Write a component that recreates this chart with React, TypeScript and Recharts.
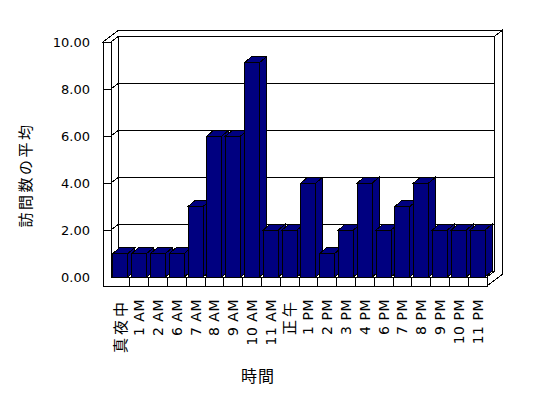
import { BarChart, Bar, XAxis, YAxis, CartesianGrid, usePlotArea } from "recharts";

const hours = ["真夜中", "1 AM", "2 AM", "6 AM", "7 AM", "8 AM", "9 AM", "10 AM", "11 AM", "正午", "1 PM", "2 PM", "3 PM", "4 PM", "6 PM", "7 PM", "8 PM", "9 PM", "10 PM", "11 PM"];
const avgVisits = [1, 1, 1, 1, 3, 6, 6, 9.12, 2, 2, 4, 1, 2, 4, 2, 3, 4, 2, 2, 2];
const yTicks = [0, 2, 4, 6, 8, 10];

const data = hours.map((hour, i) => ({ hour, visits: avgVisits[i] }));

const NAVY = "#000080";
const FONT = "'DejaVu Sans', 'Noto Sans CJK JP', sans-serif";
// depth of the 3D walls and of the bars
const DX = 7.5;
const DY = 5.75;
const BAR_DX = 7;
const BAR_DY = 6;
const WALL = 8; // left wall thickness
const FLOOR = 9; // floor thickness

function Bar3D(props: any) {
  const { x, y, width, height } = props;
  if (!height) return null;
  const r = x + width;
  const b = y + height;
  return (
    <g shapeRendering="crispEdges" stroke="#000" strokeWidth={1} fill={NAVY}>
      <polygon points={`${x},${y} ${x + BAR_DX},${y - BAR_DY} ${r + BAR_DX},${y - BAR_DY} ${r},${y}`} />
      <polygon points={`${r},${y} ${r + BAR_DX},${y - BAR_DY} ${r + BAR_DX},${b - BAR_DY} ${r},${b}`} />
      <rect x={x} y={y} width={width} height={height} />
    </g>
  );
}

// walls and floor of the 3D box, no fill so the grid behind shows
function Frame() {
  const p = usePlotArea();
  if (!p) return null;
  const L = p.x;
  const R = p.x + p.width;
  const T = p.y;
  const B = p.y + p.height;
  const WL = L - WALL;
  const FB = B + FLOOR;
  const step = p.width / hours.length;
  return (
    <g shapeRendering="crispEdges" stroke="#000" strokeWidth={1} fill="none">
      <rect x={L + DX} y={T - DY} width={p.width} height={p.height} />
      <polygon points={`${L},${T} ${L + DX},${T - DY} ${L + DX},${B - DY} ${L},${B}`} />
      <polygon
        points={`${WL},${T} ${WL + 2 * DX},${T - 2 * DY} ${R + 2 * DX},${T - 2 * DY} ${R + DX},${T - DY} ${L + DX},${T - DY} ${L},${T}`}
      />
      <polygon
        points={`${R + DX},${T - DY} ${R + 2 * DX},${T - 2 * DY} ${R + 2 * DX},${FB - 2 * DY} ${R},${FB} ${R},${B} ${R + DX},${B - DY}`}
      />
      <polygon points={`${WL},${T} ${L},${T} ${L},${B} ${R},${B} ${R},${FB} ${WL},${FB}`} />
      {hours.slice(1).map((_, i) => (
        <line key={i} x1={L + (i + 1) * step} x2={L + (i + 1) * step} y1={B} y2={FB} />
      ))}
    </g>
  );
}

function YTick(props: any) {
  const { x, y, payload } = props;
  const left = x + 21;
  return (
    <g>
      {payload.value > 0 && (
        <polyline
          points={`${left - WALL},${y} ${left},${y} ${left + DX},${y - DY}`}
          fill="none"
          stroke="#000"
          shapeRendering="crispEdges"
        />
      )}
      <text x={x} y={y} dy="0.36em" textAnchor="end" fontSize={13} fontFamily={FONT} fill="#000">
        {payload.value.toFixed(2)}
      </text>
    </g>
  );
}

function XTick(props: any) {
  const { x, y, payload } = props;
  const cjk = /[^\x00-\x7f]/.test(payload.value);
  return (
    <text
      transform={`translate(${x},${y}) rotate(-90)`}
      dy="0.36em"
      textAnchor="end"
      fontSize={cjk ? 15 : 14}
      letterSpacing={cjk ? 3 : 0.5}
      fontFamily={FONT}
      fill="#000"
    >
      {payload.value}
    </text>
  );
}

function gridLine(props: any) {
  return (
    <line
      key={props.key ?? `${props.y1}`}
      x1={props.x1 + DX}
      x2={props.x2 + DX}
      y1={props.y1 - DY}
      y2={props.y2 - DY}
      stroke="#000"
      strokeWidth={1}
      shapeRendering="crispEdges"
    />
  );
}

export default function App() {
  return (
    <div style={{ position: "absolute", left: 0, top: 0, width: 548, height: 398, background: "#fff" }}>
      <BarChart width={548} height={398} data={data} margin={{ top: 42, right: 61, bottom: 21, left: 51 }} barCategoryGap="10%">
        <Frame />
        <CartesianGrid horizontal={gridLine} vertical={false} />
        <XAxis
          dataKey="hour"
          height={100}
          interval={0}
          axisLine={false}
          tickLine={false}
          tickSize={0}
          tickMargin={22}
          tick={<XTick />}
        />
        <YAxis
          width={60}
          domain={[0, 10]}
          ticks={yTicks}
          axisLine={false}
          tickLine={false}
          tickSize={0}
          tickMargin={21}
          tick={<YTick />}
        />
        <Bar dataKey="visits" shape={<Bar3D />} isAnimationActive={false} />
        <text
          transform="translate(26,175) rotate(-90)"
          dy="0.36em"
          textAnchor="middle"
          fontSize={15}
          letterSpacing={2.5}
          fontFamily={FONT}
          fill="#000"
        >
          訪問数の平均
        </text>
        <text x={258} y={376} dy="0.36em" textAnchor="middle" fontSize={16} letterSpacing={1} fontFamily={FONT} fill="#000">
          時間
        </text>
      </BarChart>
    </div>
  );
}
